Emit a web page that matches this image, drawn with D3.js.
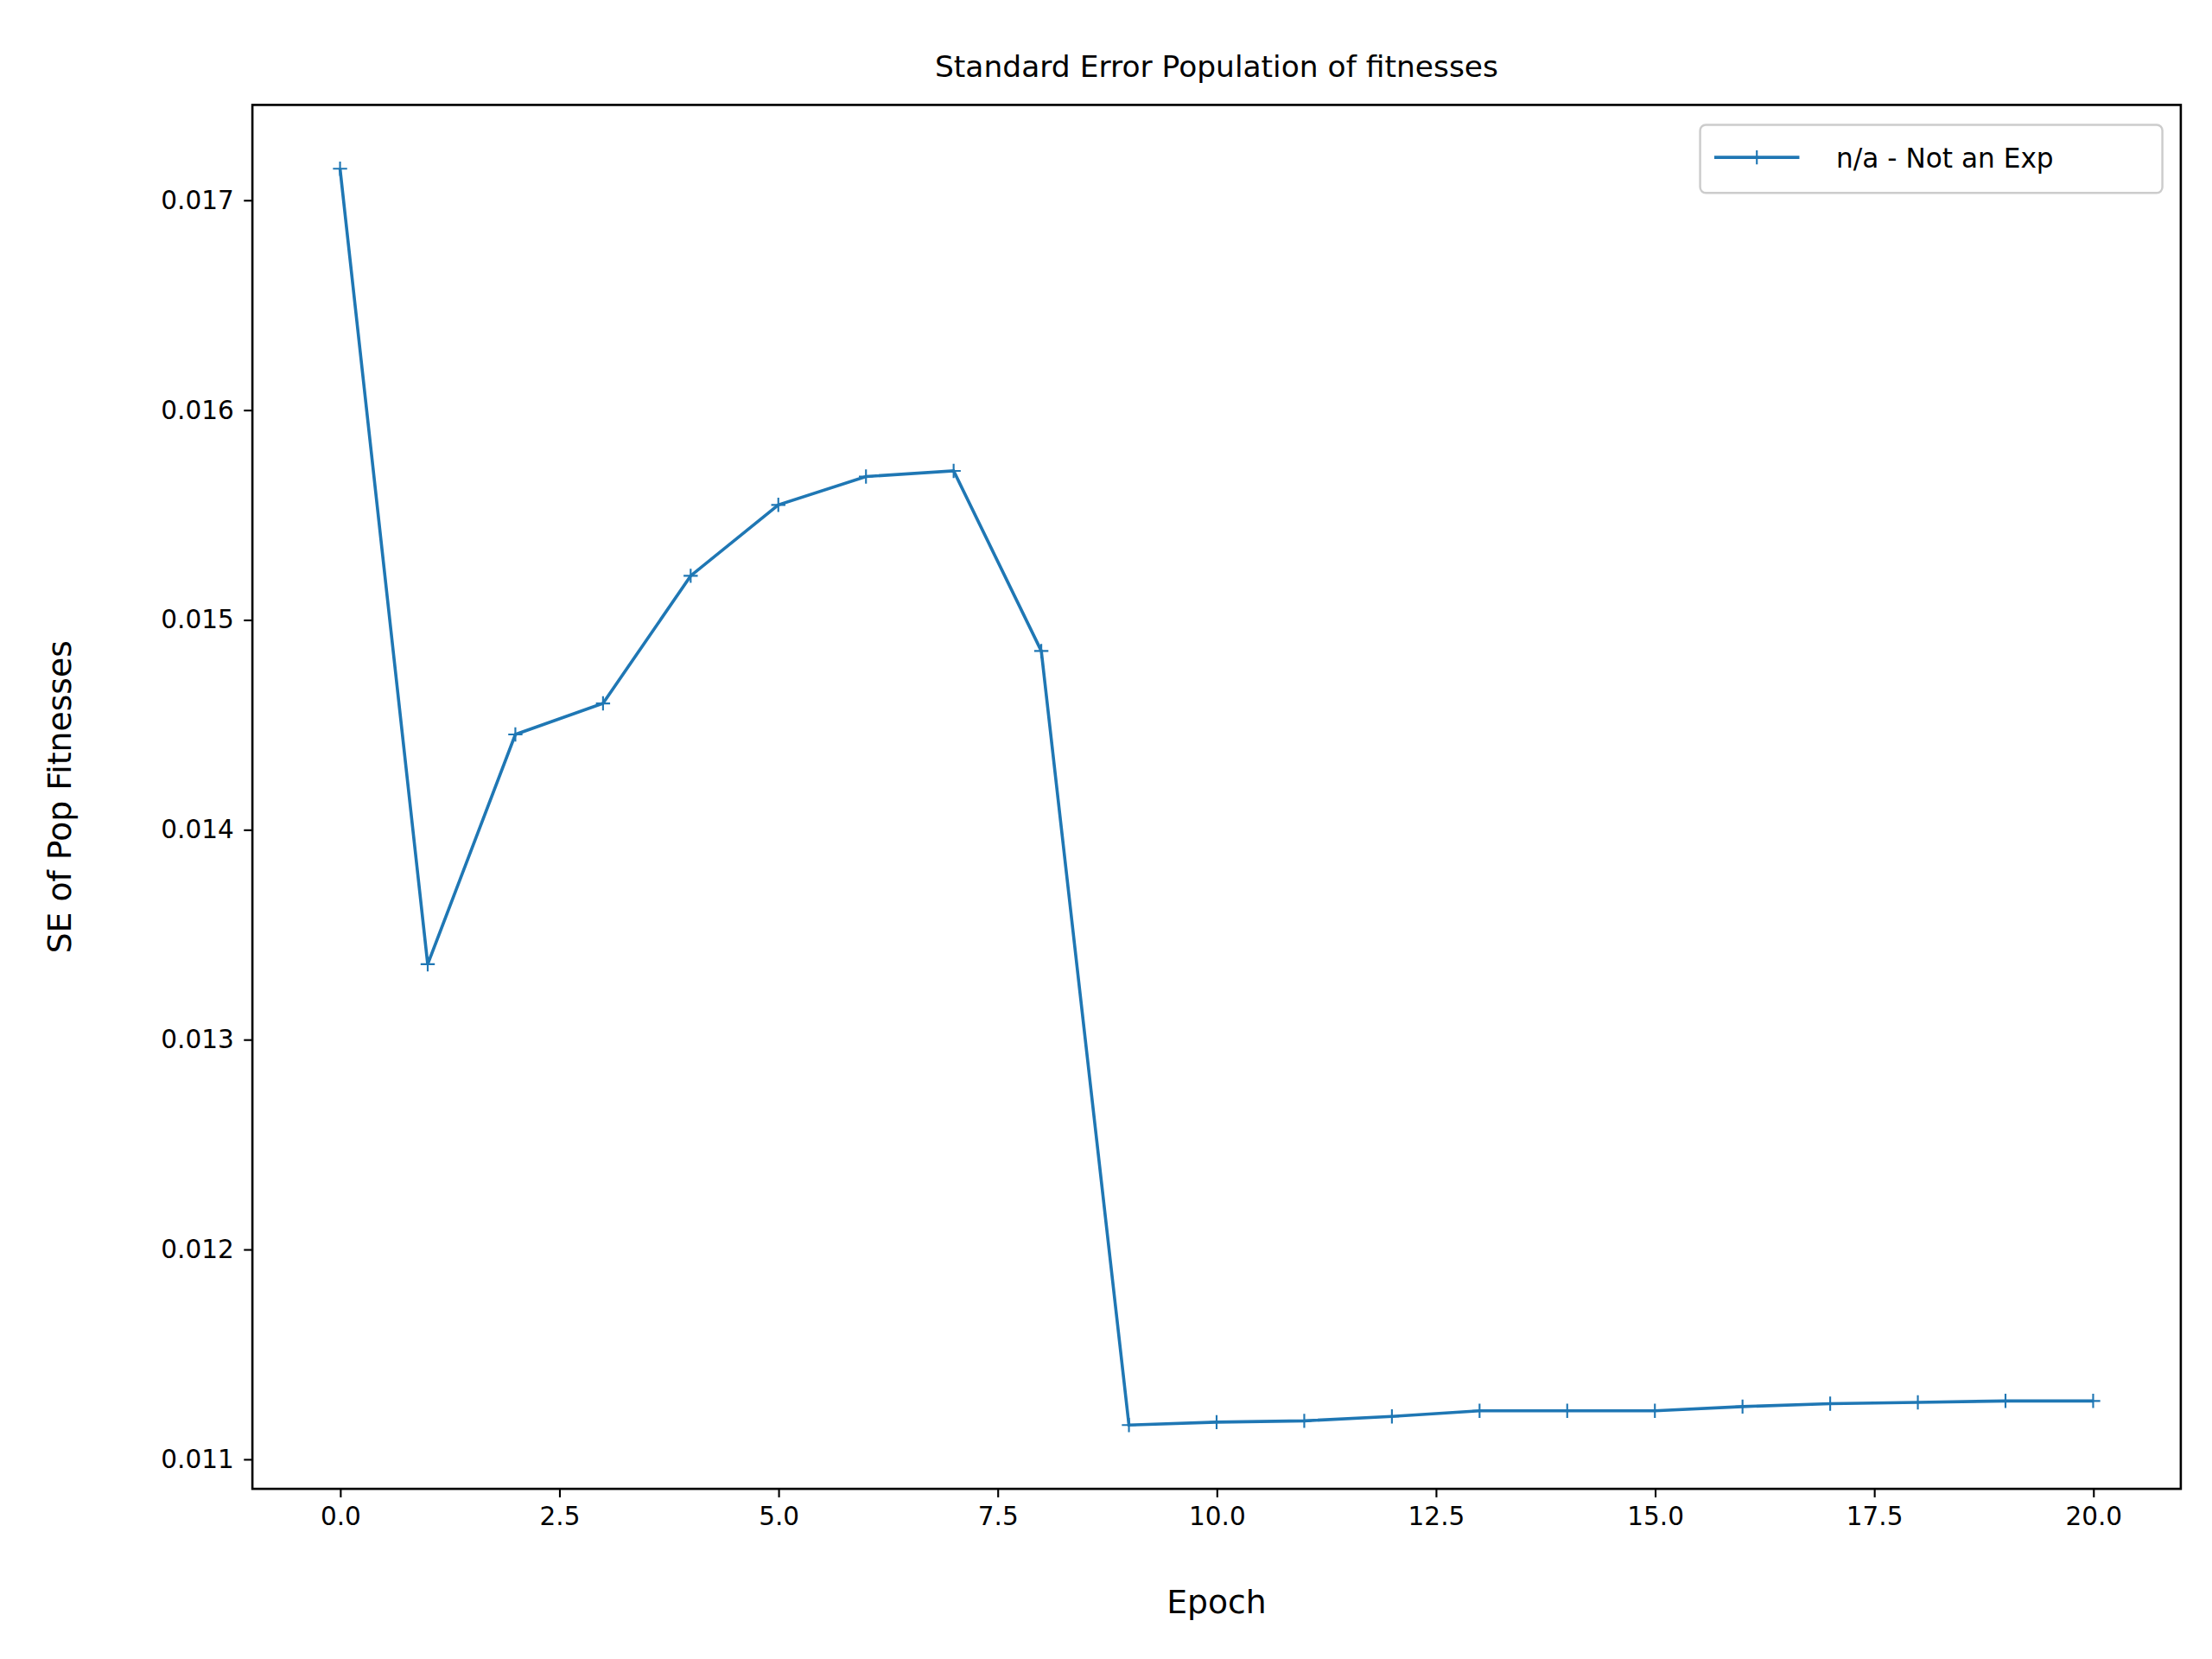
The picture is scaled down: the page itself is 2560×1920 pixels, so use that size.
<!DOCTYPE html>
<html><head><meta charset="utf-8">
<script src="https://cdn.jsdelivr.net/npm/d3@7"></script>
<style>body{margin:0;background:#fff}svg{display:block}text{font-family:"DejaVu Sans",sans-serif}</style>
</head><body>
<div id="chart"></div>
<script>
// data
const epochs = d3.range(0, 21);
const seValues = [0.017149, 0.013358, 0.014453, 0.014601, 0.015209, 0.015547, 0.015682, 0.015709,
  0.014851, 0.011162, 0.011176, 0.011182, 0.011203, 0.011230, 0.011230, 0.011230,
  0.011250, 0.011264, 0.011270, 0.011277, 0.011277];
const xTicks = [0, 2.5, 5, 7.5, 10, 12.5, 15, 17.5, 20];
const yTicks = [0.011, 0.012, 0.013, 0.014, 0.015, 0.016, 0.017];
const seriesName = "n/a - Not an Exp";

const W = 1560, H = 1170;
const m = {left: 178, right: 22, top: 74, bottom: 120};
const color = "#1f77b4";

const svg = d3.select("#chart").append("svg")
  .attr("width", 2560).attr("height", 1920)
  .attr("viewBox", `0 0 ${W} ${H}`);

const x = d3.scaleLinear().domain([-1, 21]).range([m.left, W - m.right]);
const y = d3.scaleLinear().domain([0.010858, 0.017453]).range([H - m.bottom, m.top]);

const gx = svg.append("g").attr("transform", `translate(0,${H - m.bottom})`)
  .call(d3.axisBottom(x).tickValues(xTicks).tickFormat(d3.format(".1f")).tickSize(6).tickPadding(7));
const gy = svg.append("g").attr("transform", `translate(${m.left},0)`)
  .call(d3.axisLeft(y).tickValues(yTicks).tickFormat(d3.format(".3f")).tickSize(6).tickPadding(7));
[gx, gy].forEach(g => {
  g.select(".domain").remove();
  g.selectAll("line").attr("stroke", "#000").attr("stroke-width", 1.3);
  g.selectAll("text").attr("font-size", 18).attr("fill", "#000")
    .attr("font-family", "DejaVu Sans");
});

svg.append("rect").attr("x", m.left).attr("y", m.top)
  .attr("width", W - m.left - m.right).attr("height", H - m.top - m.bottom)
  .attr("fill", "none").attr("stroke", "#000").attr("stroke-width", 1.6);

const line = d3.line().x((d, i) => x(epochs[i])).y(d => y(d));
svg.append("path").datum(seValues).attr("d", line)
  .attr("fill", "none").attr("stroke", color).attr("stroke-width", 2.2);

svg.selectAll(".mk").data(seValues).enter().append("path")
  .attr("d", "M-5,0H5M0,-5V5")
  .attr("transform", (d, i) => `translate(${x(epochs[i])},${y(d)})`)
  .attr("stroke", color).attr("stroke-width", 1.3);

// title and labels
svg.append("text").attr("x", (m.left + W - m.right) / 2).attr("y", 54)
  .attr("text-anchor", "middle").attr("font-size", 21).text("Standard Error Population of fitnesses");
svg.append("text").attr("x", (m.left + W - m.right) / 2).attr("y", 1138)
  .attr("text-anchor", "middle").attr("font-size", 23).text("Epoch");
svg.append("text").attr("transform", `translate(50,${(m.top + H - m.bottom) / 2}) rotate(-90)`)
  .attr("text-anchor", "middle").attr("font-size", 23).text("SE of Pop Fitnesses");

// legend
const lg = svg.append("g").attr("transform", "translate(1199,88)");
lg.append("rect").attr("width", 326).attr("height", 48).attr("rx", 4)
  .attr("fill", "#fff").attr("stroke", "#ccc").attr("stroke-width", 1.5);
lg.append("line").attr("x1", 10).attr("x2", 70).attr("y1", 23).attr("y2", 23)
  .attr("stroke", color).attr("stroke-width", 2.2);
lg.append("path").attr("d", "M35,23H45M40,18V28").attr("stroke", color).attr("stroke-width", 1.3);
lg.append("text").attr("x", 96).attr("y", 30).attr("font-size", 19).text(seriesName);
</script>
</body></html>
